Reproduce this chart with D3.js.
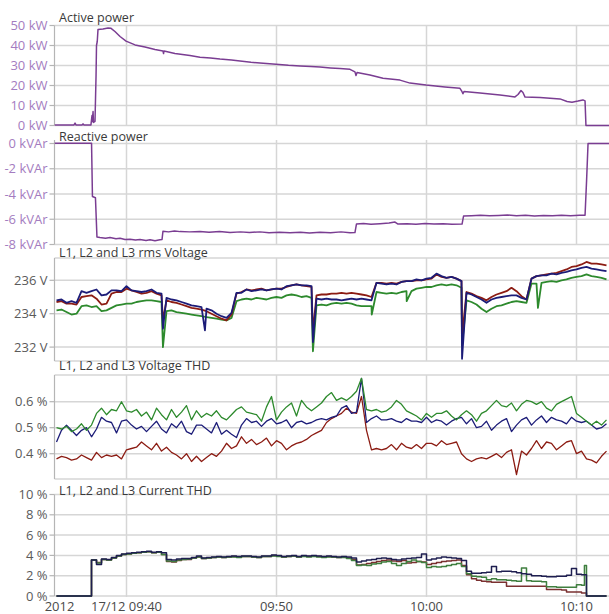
<!DOCTYPE html>
<html><head><meta charset="utf-8">
<script src="https://cdn.jsdelivr.net/npm/d3@7"></script>
<style>
html,body{margin:0;padding:0;background:#fff;}
svg{display:block;font-family:"Open Sans",sans-serif;}
</style></head><body>
<svg id="chart" width="609" height="614"></svg>
<script>
// ================= DATA =================
// time: minutes after 09:00 on 17/12/2012
const xDomainMin = [35.2, 72.167];
const xTickMin = [40, 50, 60, 70];
const xTickLabels = ["17/12 09:40", "09:50", "10:00", "10:10"];
const yearLabel = "2012";
const panelTitles = ["Active power", "Reactive power", "L1, L2 and L3 rms Voltage", "L1, L2 and L3 Voltage THD", "L1, L2 and L3 Current THD"];

const powerTicks = [0, 10, 20, 30, 40, 50];
const powerTickLabels = ["0 kW", "10 kW", "20 kW", "30 kW", "40 kW", "50 kW"];
const reactiveTicks = [0, -2, -4, -6, -8];
const reactiveTickLabels = ["0 kVAr", "-2 kVAr", "-4 kVAr", "-6 kVAr", "-8 kVAr"];
const voltTicks = [232, 234, 236];
const voltTickLabels = ["232 V", "234 V", "236 V"];
const vthdTicks = [0.4, 0.5, 0.6];
const vthdTickLabels = ["0.4 %", "0.5 %", "0.6 %"];
const cthdTicks = [0, 2, 4, 6, 8, 10];
const cthdTickLabels = ["0 %", "2 %", "4 %", "6 %", "8 %", "10 %"];

// [minute, kW]
const activePower = [[35.2,0.2],[36.2,0.2],[36.5,0.3],[36.57,1.2],[36.63,0.3],[37.03,0.2],[37.1,0.8],[37.17,0.2],[37.63,0.3],[37.7,5],[37.73,2],[37.77,7],[37.8,1.5],[37.9,2],[37.97,25],[38.0,40],[38.05,42],[38.1,48],[38.43,48.3],[38.77,48.8],[38.97,48.6],[39.23,47],[39.57,44.5],[39.97,42.2],[40.57,40.3],[41.23,39.2],[41.9,38],[42.43,37.3],[42.47,36],[42.5,37.2],[43.23,36],[44.23,35],[44.9,34.1],[45.6,33.8],[46.23,33.2],[47.0,32.7],[47.57,32.3],[48.3,31.6],[48.9,31.2],[49.97,30.6],[50.8,30.1],[51.57,29.8],[52.3,29.5],[52.9,29.2],[53.6,28.8],[54.23,28.5],[54.9,28.1],[55.23,26.8],[55.3,25],[55.37,26.5],[56.23,25.3],[57.1,23.6],[58.23,22.7],[58.9,21.2],[59.97,20.2],[60.6,19.8],[61.23,19.3],[62.23,18.6],[62.37,16.9],[62.43,15.9],[62.5,17],[63.57,16.2],[64.9,15.2],[65.9,14.3],[66.1,15.5],[66.3,17.5],[66.43,16.5],[66.57,14.2],[67.57,14.0],[68.9,13.3],[69.37,12.0],[69.7,11.6],[70.1,12.2],[70.43,12.8],[70.57,12.3],[70.63,0],[72.17,0]];

// [minute, kVAr]
const reactivePower = [[35.2,0.02],[37.67,0.02],[37.73,-4.2],[37.93,-4.3],[38.03,-7.4],[38.23,-7.45],[38.6,-7.5],[38.9,-7.45],[39.3,-7.55],[39.57,-7.5],[39.9,-7.6],[40.23,-7.58],[40.6,-7.65],[40.9,-7.6],[41.3,-7.68],[41.57,-7.62],[41.9,-7.7],[42.23,-7.62],[42.37,-7.6],[42.43,-6.95],[42.8,-7.0],[43.2,-6.93],[43.57,-6.98],[44.2,-7.0],[44.9,-6.97],[45.5,-7.03],[46.2,-6.98],[46.9,-7.04],[47.6,-7.0],[48.2,-7.05],[48.9,-7.0],[49.5,-7.06],[50.2,-7.02],[50.9,-7.07],[51.6,-7.03],[52.2,-7.08],[52.9,-7.02],[53.6,-7.06],[54.3,-7.0],[54.9,-7.07],[55.23,-7.05],[55.33,-6.38],[55.8,-6.33],[56.3,-6.4],[56.9,-6.35],[57.5,-6.3],[57.9,-6.22],[58.1,-6.38],[58.7,-6.35],[59.3,-6.4],[59.9,-6.33],[60.5,-6.38],[61.1,-6.35],[61.7,-6.4],[62.37,-6.38],[62.47,-5.75],[63.0,-5.72],[63.6,-5.68],[64.2,-5.73],[64.8,-5.7],[65.4,-5.66],[66.0,-5.72],[66.6,-5.69],[67.2,-5.74],[67.8,-5.7],[68.4,-5.73],[69.0,-5.68],[69.6,-5.72],[70.2,-5.69],[70.57,-5.68],[70.67,-3.0],[70.77,0.0],[72.17,0.0]];

// regular samples: start 09:35:20, every 20 s
const gridStartMin = 35 + 20/60;
const gridStepSec = 20;

const voltL1 = [234.7,234.75,234.6,234.6,234.55,235.0,235.05,235.1,234.9,234.55,
234.6,235.2,235.3,235.3,235.5,235.4,235.3,235.2,235.25,235.35,
235.2,235.1,234.8,234.7,234.65,234.55,234.45,234.35,234.3,234.25,
234.15,234.0,233.85,233.7,233.6,233.95,235.2,235.3,235.45,235.4,
235.45,235.5,235.4,235.45,235.5,235.5,235.6,235.7,235.75,235.7,
235.65,235.6,235.1,235.15,235.15,235.2,235.2,235.25,235.2,235.25,
235.2,235.15,235.1,235.0,235.85,235.85,235.8,235.85,235.8,235.9,
235.95,235.95,236.0,236.0,236.05,236.1,236.35,236.2,236.15,236.2,
236.1,235.95,235.3,235.2,235.05,234.95,234.8,235.0,235.15,235.25,
235.35,235.55,235.35,235.05,234.85,236.1,236.25,236.3,236.35,236.4,
236.45,236.55,236.65,236.8,236.85,236.95,237.1,237.0,237.0,236.95,236.9];
const voltL2 = [234.8,234.85,234.65,234.75,234.65,235.35,235.25,235.35,235.45,235.1,
235.15,235.4,235.4,235.35,235.65,235.4,235.35,235.3,235.35,235.45,
235.25,235.2,234.95,234.85,234.8,234.7,234.6,234.5,234.45,234.4,
234.3,234.2,234.0,233.85,233.75,234.05,235.25,235.25,235.45,235.35,
235.4,235.45,235.4,235.45,235.5,235.45,235.65,235.7,235.75,235.7,
235.7,235.65,234.9,234.85,234.9,234.85,234.85,234.8,234.85,234.9,
234.85,234.9,234.85,234.8,235.85,235.8,235.75,235.8,235.75,235.9,
235.95,235.95,236.05,236.0,236.1,236.15,236.4,236.25,236.15,236.2,
236.1,235.95,235.25,235.15,235.0,234.85,234.65,234.85,234.95,235.0,
235.05,235.1,235.1,234.95,234.85,236.1,236.25,236.3,236.3,236.4,
236.35,236.45,236.5,236.6,236.65,236.75,236.8,236.7,236.65,236.6,236.55];
const voltL3 = [234.2,234.25,234.1,233.95,234.0,234.45,234.5,234.4,234.45,234.15,
234.2,234.35,234.5,234.55,234.6,234.6,234.7,234.75,234.8,234.8,
234.75,234.7,234.15,234.2,234.1,234.05,234.0,233.95,233.9,233.85,
233.8,233.75,233.7,233.65,233.6,233.75,234.75,234.85,234.9,234.85,
234.95,234.9,234.85,234.95,235.0,234.95,235.1,235.15,235.1,235.0,
235.05,234.95,234.5,234.55,234.5,234.6,234.65,234.6,234.65,234.6,
234.5,234.45,234.45,234.45,235.3,235.25,235.2,235.25,235.2,235.3,
235.35,235.35,235.5,235.55,235.6,235.6,235.7,235.75,235.7,235.75,
235.7,235.55,234.8,234.7,234.55,234.3,234.1,234.3,234.45,234.5,
234.6,234.7,234.75,234.7,234.65,235.8,235.8,235.85,235.9,235.95,
235.9,236.0,236.05,236.15,236.2,236.25,236.35,236.25,236.2,236.15,236.05];
// short voltage dips [minute, V]
const voltDipsL1 = [[42.43,233.6],[52.43,232.9],[62.37,232.6]];
const voltDipsL2 = [[42.43,233.1],[45.23,233.0],[52.43,232.3],[62.37,231.3]];
const voltDipsL3 = [[42.43,232.0],[52.43,231.75],[56.35,233.95],[58.68,234.75],[62.37,232.1],[67.43,234.35]];

const vthdL1 = [0.38,0.39,0.385,0.375,0.38,0.395,0.385,0.375,0.405,0.385,
0.395,0.39,0.395,0.38,0.415,0.42,0.425,0.445,0.43,0.415,
0.44,0.41,0.425,0.405,0.395,0.38,0.40,0.37,0.39,0.37,
0.385,0.40,0.39,0.41,0.44,0.42,0.43,0.465,0.44,0.455,
0.435,0.445,0.46,0.43,0.45,0.44,0.415,0.43,0.44,0.445,
0.455,0.47,0.48,0.49,0.52,0.535,0.545,0.555,0.575,0.56,
0.555,0.62,0.49,0.415,0.42,0.415,0.42,0.435,0.415,0.44,
0.425,0.42,0.435,0.42,0.44,0.44,0.43,0.45,0.435,0.44,
0.445,0.40,0.38,0.37,0.38,0.385,0.38,0.39,0.40,0.385,
0.405,0.415,0.32,0.41,0.395,0.42,0.45,0.42,0.445,0.44,
0.415,0.43,0.445,0.45,0.40,0.41,0.38,0.375,0.365,0.39,0.41];
const vthdL2 = [0.445,0.49,0.51,0.49,0.47,0.49,0.50,0.465,0.495,0.54,
0.525,0.52,0.48,0.525,0.53,0.51,0.495,0.505,0.485,0.505,
0.525,0.495,0.48,0.515,0.50,0.525,0.485,0.475,0.51,0.51,
0.495,0.48,0.52,0.475,0.49,0.475,0.462,0.51,0.535,0.52,
0.525,0.505,0.525,0.535,0.515,0.52,0.53,0.50,0.52,0.525,
0.515,0.52,0.53,0.535,0.53,0.54,0.545,0.575,0.585,0.555,
0.56,0.69,0.52,0.535,0.545,0.53,0.53,0.535,0.525,0.52,
0.535,0.525,0.525,0.52,0.54,0.52,0.53,0.525,0.51,0.525,
0.535,0.54,0.515,0.535,0.50,0.505,0.525,0.49,0.51,0.525,
0.535,0.485,0.51,0.53,0.54,0.51,0.53,0.545,0.52,0.54,
0.53,0.525,0.515,0.54,0.525,0.52,0.525,0.51,0.495,0.50,0.515];
const vthdL3 = [0.50,0.495,0.505,0.485,0.495,0.515,0.49,0.51,0.555,0.575,
0.55,0.57,0.565,0.60,0.565,0.56,0.57,0.545,0.56,0.53,
0.575,0.55,0.53,0.57,0.54,0.56,0.585,0.53,0.565,0.54,
0.555,0.545,0.565,0.54,0.53,0.55,0.57,0.58,0.56,0.555,
0.55,0.525,0.58,0.62,0.53,0.56,0.58,0.595,0.545,0.605,
0.58,0.565,0.58,0.595,0.62,0.635,0.605,0.615,0.605,0.62,
0.64,0.69,0.57,0.565,0.57,0.56,0.565,0.58,0.605,0.59,
0.565,0.555,0.545,0.53,0.555,0.54,0.555,0.555,0.565,0.545,
0.53,0.55,0.565,0.55,0.525,0.555,0.565,0.585,0.605,0.585,
0.58,0.595,0.565,0.59,0.605,0.6,0.59,0.6,0.575,0.565,
0.59,0.6,0.61,0.62,0.555,0.54,0.525,0.51,0.525,0.51,0.53];

const cthdL1 = [0,0,0,0,0,0,0,3.55,3.3,3.6,
3.55,3.75,3.95,4.1,4.15,4.2,4.25,4.3,4.35,4.25,
4.3,4.1,3.4,3.35,3.5,3.6,3.6,3.75,3.85,3.7,
3.75,3.8,3.85,3.8,3.85,3.9,3.85,3.9,3.9,3.85,
3.8,3.9,3.9,4.0,3.95,3.85,3.9,3.95,3.85,3.95,
3.9,3.95,3.9,3.85,3.9,3.85,3.8,3.85,3.75,3.6,
3.05,3.1,3.2,3.3,3.4,3.5,3.55,3.45,3.4,3.5,
3.25,3.3,3.4,3.35,3.1,3.2,3.3,3.4,3.45,3.5,
3.55,3.0,2.1,1.7,1.55,1.45,1.4,1.35,1.35,1.35,
0.95,0.95,0.95,0.95,0.95,0.95,0.95,0.95,0.65,0.65,
0.65,0.6,0.4,0.4,0.4,0.3,0,0,0,0,0];
const cthdL2 = [0,0,0,0,0,0,0,3.55,3.1,3.65,
3.6,3.8,4.0,4.15,4.2,4.25,4.3,4.35,4.4,4.3,
4.35,4.25,3.6,3.55,3.65,3.7,3.7,3.8,3.95,3.75,
3.8,3.85,3.9,3.85,3.9,3.95,3.9,3.95,3.95,3.9,
3.85,3.95,3.95,4.05,4.0,3.9,3.95,4.0,3.9,4.0,
3.95,4.0,3.95,3.9,3.95,3.9,3.85,3.9,3.85,3.75,
3.35,3.45,3.55,3.6,3.7,3.75,3.7,3.6,3.55,3.65,
3.7,3.75,3.8,4.15,3.55,3.65,3.75,3.85,3.8,3.75,
3.7,3.5,2.45,2.25,2.25,2.3,2.35,2.9,2.4,2.45,
2.45,2.4,2.3,2.2,2.15,2.0,2.0,1.95,1.9,1.9,
1.95,1.95,2.05,2.7,2.15,2.1,0,0,0,0,0];
const cthdL3 = [0,0,0,0,0,0,0,3.55,3.25,3.6,
3.55,3.75,3.95,4.1,4.15,4.2,4.25,4.3,4.35,4.25,
4.3,4.1,3.45,3.4,3.55,3.6,3.65,3.75,3.85,3.7,
3.75,3.8,3.85,3.8,3.85,3.85,3.8,3.9,3.9,3.85,
3.8,3.9,3.9,3.95,3.9,3.85,3.9,3.95,3.85,3.9,
3.85,3.9,3.85,3.8,3.85,3.85,3.8,3.8,3.7,3.5,
3.0,3.05,3.0,3.15,3.2,3.35,3.4,3.2,3.0,3.2,
3.4,3.55,3.4,3.3,2.8,2.9,2.85,2.9,3.0,3.1,
3.2,2.9,2.2,1.95,1.9,1.85,1.6,1.7,1.6,1.6,
1.55,1.5,1.45,2.75,1.5,1.45,1.45,1.4,0.9,0.9,
0.85,0.85,0.85,0.85,1.1,1.05,0,0,0,0,0];
const cthdExtraL3 = [[70.53,3.0]];

// ================= DRAWING =================
const t0 = new Date(2012, 11, 17, 9, 0, 0);
const T = m => new Date(t0.getTime() + m * 60000);
const plotLeft = 54.5, plotRight = 609;
const x = d3.scaleTime().domain(xDomainMin.map(T)).range([plotLeft, plotRight]);

const pairs = arr => arr.map(([m, v]) => [T(m), v]);
function gridSeries(vals, extra) {
  const pts = vals.map((v, i) => [T(gridStartMin + i * gridStepSec / 60), v]);
  (extra || []).forEach(([m, v]) => pts.push([T(m), v]));
  pts.sort((a, b) => a[0] - b[0]);
  return pts;
}

const C = {
  purple: "#7a3d92", purpleLabel: "#a47cc0", label: "#5a5a5a", title: "#3a3a3a",
  grid: "#d6d6d6", axis: "#b5b5b5",
  red: "#8c1c13", blue: "#1c1c78", green: "#2d8a2d",
  cRed: "#7a3030", cBlue: "#1e1e50", cGreen: "#3f7f3f"
};

const panels = [
  { title: panelTitles[0], titleY: 21.5, top: 25.5, bottom: 125.5, domain: [0, 50], range: [125.5, 25.5],
    ticks: powerTicks, labels: powerTickLabels, labelColor: C.purpleLabel, borders: [],
    series: [{ d: pairs(activePower), c: C.purple, w: 1.5, curve: d3.curveLinear }] },
  { title: panelTitles[1], titleY: 141, top: 140, bottom: 244.5, domain: [-8, 0], range: [244.5, 143.5],
    ticks: reactiveTicks, labels: reactiveTickLabels, labelColor: C.purpleLabel, borders: [],
    series: [{ d: pairs(reactivePower), c: C.purple, w: 1.5, curve: d3.curveLinear }] },
  { title: panelTitles[2], titleY: 256.5, top: 258, bottom: 361, domain: [232, 236], range: [347.1, 280.3],
    ticks: voltTicks, labels: voltTickLabels, labelColor: C.label, borders: [258, 361],
    series: [
      { d: gridSeries(voltL3, voltDipsL3), c: C.green, w: 1.8, curve: d3.curveLinear },
      { d: gridSeries(voltL1, voltDipsL1), c: C.red, w: 1.8, curve: d3.curveLinear },
      { d: gridSeries(voltL2, voltDipsL2), c: C.blue, w: 1.8, curve: d3.curveLinear }] },
  { title: panelTitles[3], titleY: 370, top: 375, bottom: 479, domain: [0.4, 0.6], range: [453.7, 401.7],
    ticks: vthdTicks, labels: vthdTickLabels, labelColor: C.label, borders: [375, 479],
    series: [
      { d: gridSeries(vthdL1), c: C.red, w: 1.3, curve: d3.curveLinear },
      { d: gridSeries(vthdL2), c: C.blue, w: 1.3, curve: d3.curveLinear },
      { d: gridSeries(vthdL3), c: C.green, w: 1.3, curve: d3.curveLinear }] },
  { title: panelTitles[4], titleY: 495, top: 494.5, bottom: 596, domain: [0, 10], range: [596, 494.5],
    ticks: cthdTicks, labels: cthdTickLabels, labelColor: C.label, borders: [],
    series: [
      { d: gridSeries(cthdL1), c: C.cRed, w: 1.5, curve: d3.curveStepAfter },
      { d: gridSeries(cthdL3, cthdExtraL3), c: C.cGreen, w: 1.5, curve: d3.curveStepAfter },
      { d: gridSeries(cthdL2), c: C.cBlue, w: 1.5, curve: d3.curveStepAfter }] }
];

const svg = d3.select("#chart");
svg.append("rect").attr("width", 609).attr("height", 614).attr("fill", "#fff");

panels.forEach((p, pi) => {
  const y = d3.scaleLinear().domain(p.domain).range(p.range);
  const g = svg.append("g");
  g.selectAll("line.v").data(xTickMin).join("line")
    .attr("x1", m => x(T(m))).attr("x2", m => x(T(m)))
    .attr("y1", p.top).attr("y2", p.bottom + (pi === 4 ? 1 : 0))
    .attr("stroke", C.grid).attr("stroke-width", 1.5);
  g.selectAll("line.h").data(p.ticks).join("line")
    .attr("x1", plotLeft).attr("x2", plotRight)
    .attr("y1", v => y(v)).attr("y2", v => y(v))
    .attr("stroke", C.grid).attr("stroke-width", 1.5);
  g.selectAll("line.b").data(p.borders).join("line")
    .attr("x1", plotLeft).attr("x2", plotRight)
    .attr("y1", d => d).attr("y2", d => d)
    .attr("stroke", C.grid).attr("stroke-width", 1.5);
  g.append("line").attr("x1", plotLeft).attr("x2", plotLeft)
    .attr("y1", p.top).attr("y2", p.bottom).attr("stroke", C.axis).attr("stroke-width", 1.2);
  g.selectAll("line.t").data(p.ticks).join("line")
    .attr("x1", plotLeft - 5).attr("x2", plotLeft)
    .attr("y1", v => y(v)).attr("y2", v => y(v))
    .attr("stroke", C.axis).attr("stroke-width", 1.2);
  g.selectAll("text.tl").data(p.ticks).join("text")
    .attr("x", plotLeft - 7).attr("y", v => y(v)).attr("dy", "0.36em")
    .attr("text-anchor", "end").attr("font-size", 13).attr("fill", p.labelColor)
    .text((v, i) => p.labels[i]);
  const cid = "clip" + pi;
  svg.append("clipPath").attr("id", cid).append("rect")
    .attr("x", plotLeft).attr("y", p.top - 4).attr("width", plotRight - plotLeft).attr("height", p.bottom - p.top + 8);
  const lg = svg.append("g").attr("clip-path", `url(#${cid})`);
  p.series.forEach(s => {
    const line = d3.line().x(d => x(d[0])).y(d => y(d[1])).curve(s.curve);
    lg.append("path").attr("d", line(s.d)).attr("fill", "none")
      .attr("stroke", s.c).attr("stroke-width", s.w).attr("stroke-linejoin", "round");
  });
  svg.append("text").attr("x", 59).attr("y", p.titleY)
    .attr("font-size", 12.5).attr("fill", C.title).text(p.title);
});

svg.selectAll("text.xl").data(xTickMin).join("text")
  .attr("x", m => x(T(m))).attr("y", 611).attr("text-anchor", "middle")
  .attr("font-size", 13).attr("fill", "#4a4a4a").text((m, i) => xTickLabels[i]);
svg.append("text").attr("x", plotLeft + 5).attr("y", 611).attr("text-anchor", "middle")
  .attr("font-size", 13).attr("fill", "#4a4a4a").text(yearLabel);
</script>
</body></html>
